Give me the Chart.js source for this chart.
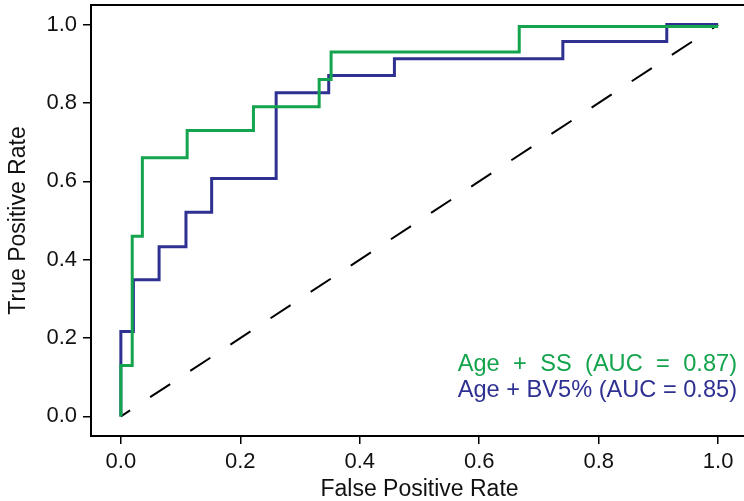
<!DOCTYPE html>
<html>
<head>
<meta charset="utf-8">
<script src="https://cdn.jsdelivr.net/npm/chart.js@4.4.1/dist/chart.umd.min.js"></script>
<style>
  html, body { margin: 0; padding: 0; background: #fff; overflow: hidden; }
  #wrap { width: 752px; height: 501px; }
</style>
</head>
<body>
<div id="wrap"><canvas id="rocChart"></canvas></div>
<script>
// DATA
const fprSS = [0, 0, 0.019, 0.036, 0.111, 0.222, 0.332, 0.352, 0.667, 1];
const tprSS = [0, 0.13, 0.46, 0.66, 0.73, 0.79, 0.86, 0.93, 0.995, 0.995];

const fprBV = [0, 0, 0.021, 0.064, 0.109, 0.152, 0.26, 0.348, 0.458, 0.74, 0.914, 1];
const tprBV = [0, 0.217, 0.349, 0.433, 0.521, 0.607, 0.826, 0.87, 0.913, 0.957, 1, 1];

const chanceX = [0, 1];
const chanceY = [0, 1];

const xTicks = [0, 0.2, 0.4, 0.6, 0.8, 1.0];
const yTicks = [0, 0.2, 0.4, 0.6, 0.8, 1.0];

const labelSS = "Age + SS (AUC = 0.87)";
const labelBV = "Age + BV5% (AUC = 0.85)";

const GREEN = '#14a44d';
const BLUE = '#2e3192';
const FONT = '"Liberation Sans", Arial, sans-serif';

function toPoints(xs, ys) {
    return xs.map((x, i) => ({x: x, y: ys[i]}));
}

/**********************************************************************************
 * PLUGINS
 *********************************************************************************/

// box around the plot + the AUC labels in the bottom right corner
const frameAndLabels = {
    id: 'frameAndLabels',
    afterDraw(chart) {
        const ctx = chart.ctx;
        const a = chart.chartArea;
        ctx.save();
        ctx.strokeStyle = '#000';
        ctx.lineWidth = 2;
        ctx.strokeRect(a.left, a.top, a.right - a.left, a.bottom - a.top);

        ctx.font = '23.6px ' + FONT;
        ctx.textBaseline = 'alphabetic';
        const right = a.right - 11;

        // second line sets the width, first line is spread out to match
        ctx.fillStyle = BLUE;
        ctx.textAlign = 'right';
        ctx.fillText(labelBV, right, a.bottom - 39);
        const w = ctx.measureText(labelBV).width;

        const words = labelSS.split(' ');
        const wordsW = words.reduce((s, t) => s + ctx.measureText(t).width, 0);
        const gap = (w - wordsW) / (words.length - 1);
        let x = right - w;
        ctx.fillStyle = GREEN;
        ctx.textAlign = 'left';
        words.forEach(t => {
            ctx.fillText(t, x, a.bottom - 65);
            x += ctx.measureText(t).width + gap;
        });
        ctx.restore();
    }
};

/**********************************************************************************
 * GRAPHING
 *********************************************************************************/

const ctx = document.getElementById('rocChart');

var chart = new Chart(ctx, {
    type: 'scatter',
    data: {
        datasets: [
            {
                label: labelSS,
                data: toPoints(fprSS, tprSS),
                showLine: true,
                stepped: 'before',
                borderColor: GREEN,
                borderWidth: 3,
                pointRadius: 0
            },
            {
                label: labelBV,
                data: toPoints(fprBV, tprBV),
                showLine: true,
                stepped: 'before',
                borderColor: BLUE,
                borderWidth: 3,
                pointRadius: 0
            },
            {
                label: 'chance',
                data: toPoints(chanceX, chanceY),
                showLine: true,
                borderColor: '#000',
                borderWidth: 2,
                borderDash: [24, 24],
                borderDashOffset: 13,
                pointRadius: 0
            }
        ]
    },
    options: {
        responsive: true,
        maintainAspectRatio: false,
        animation: false,
        layout: { padding: { top: 5, right: 4, left: 0, bottom: 0 } },
        plugins: {
            legend: { display: false },
            tooltip: { enabled: false }
        },
        scales: {
            x: {
                min: -0.05,
                max: 1.05,
                afterBuildTicks: (scale) => { scale.ticks = xTicks.map(v => ({value: v})); },
                afterFit: (scale) => {
                    scale.height = 65;
                    scale.paddingLeft = 0;
                    scale.paddingRight = 0;
                },
                grid: { drawOnChartArea: false, color: '#000', lineWidth: 1.5, tickLength: 8 },
                border: { display: false },
                ticks: {
                    color: '#111',
                    padding: 5,
                    maxRotation: 0,
                    font: { family: FONT, size: 22 },
                    callback: (v) => Number(v).toFixed(1)
                },
                title: {
                    display: true,
                    text: 'False Positive Rate',
                    color: '#111',
                    font: { family: FONT, size: 23, lineHeight: 1 },
                    padding: { top: 0, bottom: 0 }
                }
            },
            y: {
                min: -0.05,
                max: 1.05,
                afterBuildTicks: (scale) => { scale.ticks = yTicks.map(v => ({value: v})); },
                afterFit: (scale) => {
                    scale.width = 91;
                    scale.paddingTop = 0;
                    scale.paddingBottom = 0;
                },
                grid: { drawOnChartArea: false, color: '#000', lineWidth: 1.5, tickLength: 8 },
                border: { display: false },
                ticks: {
                    color: '#111',
                    padding: 6,
                    font: { family: FONT, size: 22 },
                    callback: (v) => Number(v).toFixed(1)
                },
                title: {
                    display: true,
                    text: 'True Positive Rate',
                    color: '#111',
                    font: { family: FONT, size: 23, lineHeight: 1.2 },
                    padding: { top: 5, bottom: 0 }
                }
            }
        }
    },
    plugins: [frameAndLabels]
});
</script>
</body>
</html>
